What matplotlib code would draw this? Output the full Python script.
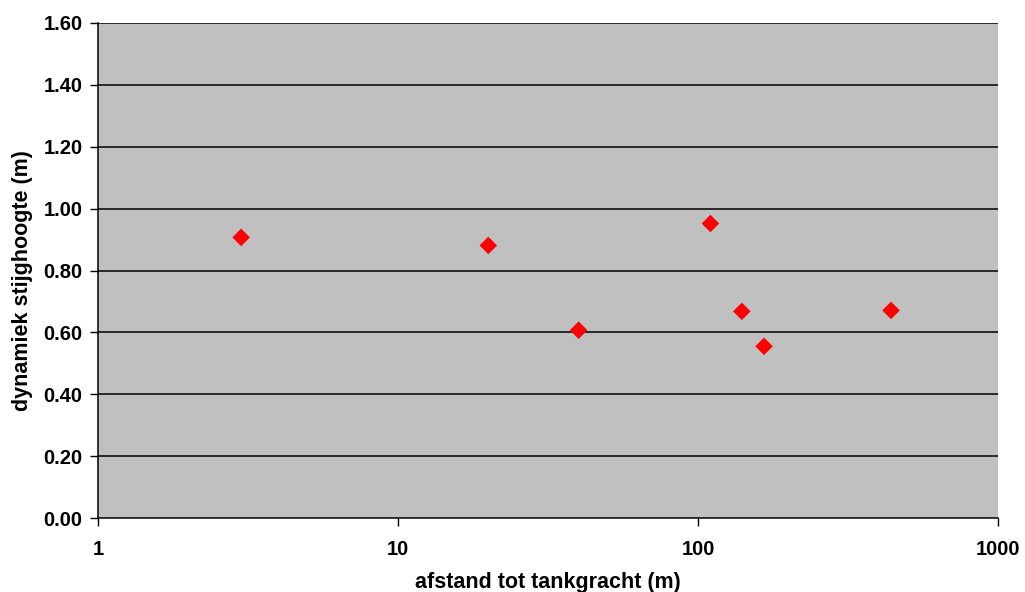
import numpy as np
import matplotlib
matplotlib.use("Agg")
import matplotlib.pyplot as plt
from matplotlib.ticker import FixedLocator, FixedFormatter, NullLocator

plt.rcParams['font.family'] = ['Liberation Sans', 'DejaVu Sans']

# data
afstand = [3, 20, 40, 110, 140, 166, 440]
stijghoogte = [0.907, 0.881, 0.607, 0.952, 0.668, 0.555, 0.671]

x_ticks = [1, 10, 100, 1000]
x_labels = ['1', '10', '100', '1000']
y_ticks = [0.0, 0.2, 0.4, 0.6, 0.8, 1.0, 1.2, 1.4, 1.6]

fig = plt.figure(figsize=(10.25, 5.92), dpi=100)
ax = fig.add_axes([98 / 1025, 74 / 592, 900 / 1025, 495 / 592])
ax.set_facecolor('#c0c0c0')

ax.set_xscale('log')
ax.set_xlim(1, 1000)
ax.set_ylim(0, 1.6)

# horizontal gridlines
for y in y_ticks[1:]:
    ax.axhline(y, color='black', lw=1.1, zorder=1)

ax.scatter(afstand, stijghoogte, marker='D', s=80, color='#ff0000',
           edgecolors='none', zorder=3)

ax.xaxis.set_major_locator(FixedLocator(x_ticks))
ax.xaxis.set_major_formatter(FixedFormatter(x_labels))
ax.xaxis.set_minor_locator(NullLocator())
ax.set_yticks(y_ticks)
ax.set_yticklabels(['%.2f' % v for v in y_ticks])

for s in ['top', 'right']:
    ax.spines[s].set_visible(False)
for s in ['left', 'bottom']:
    ax.spines[s].set_color('black')
    ax.spines[s].set_linewidth(1.1)

ax.tick_params(axis='both', direction='out', length=6, width=1, color='black',
               labelsize=14.5)
ax.tick_params(axis='x', pad=10)
ax.tick_params(axis='y', pad=5)
for lab in ax.get_xticklabels() + ax.get_yticklabels():
    lab.set_fontweight('bold')

ax.set_xlabel('afstand tot tankgracht (m)', fontsize=15.5, fontweight='bold', labelpad=9)
ax.set_ylabel('dynamiek stijghoogte (m)', fontsize=15.5, fontweight='bold')
ax.yaxis.set_label_coords(-0.072, 0.48)

fig.savefig('out.png', dpi=100)
